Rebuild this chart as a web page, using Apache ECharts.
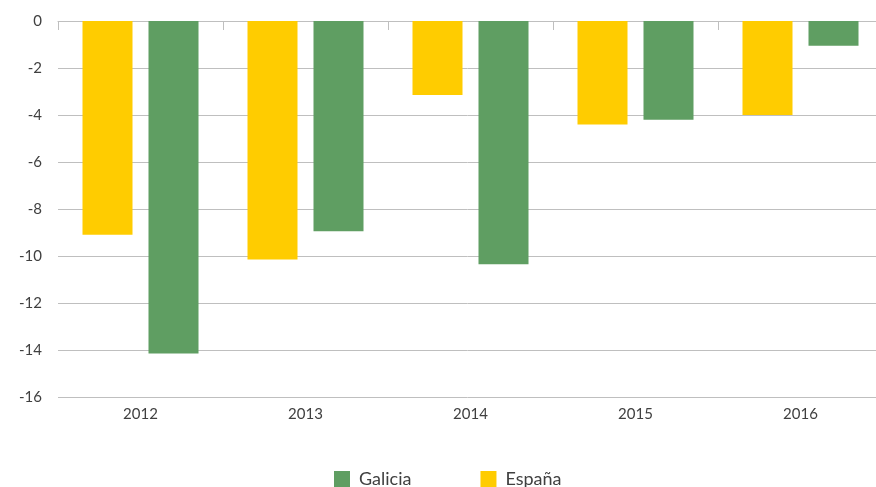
<!DOCTYPE html>
<html>
<head>
<meta charset="utf-8">
<script src="https://cdn.jsdelivr.net/npm/echarts@6/dist/echarts.min.js"></script>
<style>html,body{margin:0;padding:0;background:#fff;}#c{width:876px;height:487px;}</style>
</head>
<body>
<div id="c"></div>
<script>
const categories = ['2012', '2013', '2014', '2015', '2016'];
const espana = [-9.1, -10.15, -3.15, -4.4, -4.0];
const galicia = [-14.15, -8.95, -10.35, -4.2, -1.05];
const legendNames = ['Galicia', 'España'];

const chart = echarts.init(document.getElementById('c'));
const font = 'Lato, "Open Sans", sans-serif';
chart.setOption({
  animation: false,
  textStyle: { fontFamily: font },
  grid: { left: 58, top: 21, width: 825, bottom: 90, outerBoundsMode: 'none' },
  legend: {
    data: legendNames,
    left: 334, top: 470, padding: 0,
    itemWidth: 16, itemHeight: 16, itemGap: 69,
    icon: 'rect',
    textStyle: { fontSize: 18, color: '#404040', fontFamily: font, padding: [0, 0, 0, 4] }
  },
  xAxis: [
    {
      type: 'category', data: categories, position: 'bottom',
      axisLine: { show: false }, axisTick: { show: false },
      axisLabel: { fontSize: 15, color: '#404040', margin: 10, fontFamily: font }
    },
    {
      type: 'category', data: categories, position: 'top',
      axisLine: { show: true, lineStyle: { color: '#bfbfbf', width: 1 } },
      axisTick: { show: true, inside: true, length: 9, lineStyle: { color: '#bfbfbf' } },
      axisLabel: { show: false }
    }
  ],
  yAxis: {
    type: 'value', min: -16, max: 0, interval: 2,
    axisLine: { show: false }, axisTick: { show: false },
    axisLabel: { fontSize: 15, color: '#404040', margin: 16, fontFamily: font },
    splitLine: { lineStyle: { color: '#bfbfbf', width: 1 } }
  },
  series: [
    { name: 'España', type: 'bar', data: espana, barWidth: 50, barGap: '32%',
      itemStyle: { color: '#FFCC00' } },
    { name: 'Galicia', type: 'bar', data: galicia, barWidth: 50, barGap: '32%',
      itemStyle: { color: '#5F9E62' } }
  ]
});
</script>
</body>
</html>
